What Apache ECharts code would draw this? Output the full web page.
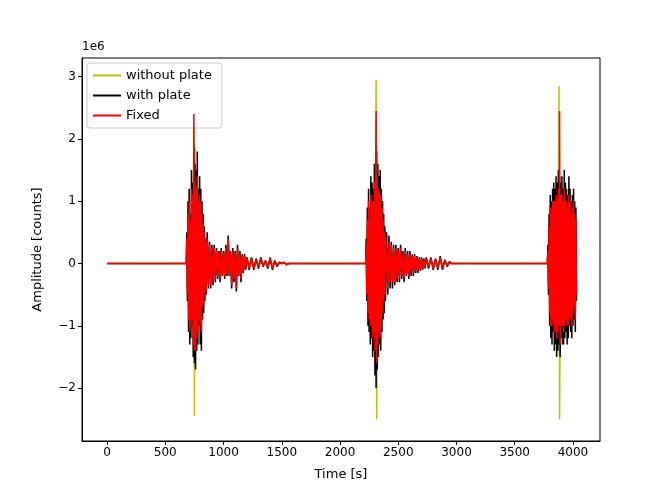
<!DOCTYPE html>
<html><head><meta charset="utf-8">
<script src="https://cdn.jsdelivr.net/npm/echarts@6/dist/echarts.min.js"></script>
<style>html,body{margin:0;padding:0;background:#fff}#c{width:666px;height:500px}</style>
</head><body><div id="c"></div>
<script>
// values in units of 1e6 counts
const tLead = [0, 680];
const zLead = [0, 0];
const t1 = [685,690,695,700,705,710,715,720,725,730,735,740,745,750,755,760,765,770,775,780,785,790,795,800,805,810,815,820,825,830,835,840,845,850,
 860,870,880,890,900,910,920,930,940,950,960,970,980,990,1000,1010,1020,1030,1040,1050,1060,1070,1080,1090,1100,1110,1120,1130,1140,1150,1160,1170,1180,1190,1200,
 1220,1240,1260,1280,1300,1320,1340,1360,1380,1400,1420,1440,1460,1480,1500,1520,1540,1560,2220];
const black1 = [0.5,-0.6,1.0,-1.1,1.2,-1.3,0.8,-1.2,1.5,-1.0,1.3,-1.5,1.9,-1.6,1.6,-1.7,1.5,-1.4,1.8,-1.3,1.2,-1.0,1.4,-1.3,1.2,-1.4,1.0,-0.9,0.8,-0.8,0.6,-0.6,0.4,-0.5,
 0.5,-0.4,0.35,-0.4,0.3,-0.35,0.3,-0.3,0.25,-0.25,0.2,-0.3,0.25,-0.2,0.2,-0.25,0.3,-0.2,0.45,-0.2,0.2,-0.4,0.25,-0.3,0.2,-0.45,0.3,-0.2,0.2,-0.3,0.15,-0.15,0.15,-0.1,0.1,
 -0.1,0.1,-0.1,0.08,-0.08,0.1,-0.05,0.05,-0.08,0.1,-0.1,0.05,-0.05,0.02,0,0.02,-0.02,0,0];
const red1 = [0.4,-0.5,0.8,-0.9,1.0,-1.1,0.7,-1.0,1.2,-0.9,1.1,-1.3,2.4,-1.4,1.3,-1.4,1.2,-1.2,1.4,-1.1,1.0,-0.9,1.1,-1.0,1.0,-1.1,0.8,-0.7,0.65,-0.65,0.5,-0.5,0.35,-0.45,
 0.4,-0.35,0.3,-0.35,0.25,-0.3,0.25,-0.25,0.2,-0.2,0.18,-0.25,0.2,-0.18,0.18,-0.2,0.25,-0.18,0.4,-0.18,0.18,-0.35,0.2,-0.25,0.18,-0.4,0.25,-0.18,0.18,-0.25,0.12,-0.12,0.12,-0.08,0.08,
 -0.08,0.08,-0.08,0.06,-0.06,0.08,-0.04,0.04,-0.06,0.08,-0.08,0.04,-0.04,0.02,0,0.02,-0.02,0,0];
const yellow1 = [0.3,-0.4,0.6,-0.7,0.8,-0.9,0.6,-0.8,1.0,-0.8,1.0,-1.2,2.95,-2.45,1.85,-1.2,1.0,-1.0,1.2,-0.9,0.8,-0.8,0.9,-0.8,0.8,-0.9,0.6,-0.6,0.5,-0.5,0.4,-0.4,0.3,-0.3,
 0.2,-0.2,0.2,-0.2,0.2,-0.2,0.2,-0.2,0.2,-0.2,0.2,-0.2,0.2,-0.2,0.2,-0.2,0.2,-0.2,0.2,-0.2,0.2,-0.2,0.2,-0.2,0.2,-0.2,0.2,-0.2,0.2,-0.2,0.1,-0.1,0.1,-0.1,0.1,
 0,0,0,0,0,0,0,0,0,0,0,0,0,0,0,0,0,0,0];
const t2 = [2225,2230,2235,2240,2245,2250,2255,2260,2265,2270,2275,2280,2285,2290,2295,2300,2305,2310,2315,2320,2325,2330,2335,2340,2345,2350,2355,2360,2365,2370,2375,2380,2385,2390,
 2400,2410,2420,2430,2440,2450,2460,2470,2480,2490,2500,2510,2520,2530,2540,2550,2560,2570,2580,2590,2600,2610,2620,2630,2640,2650,2660,2670,2680,2690,2700,2710,2720,2730,2740,
 2760,2780,2800,2820,2840,2860,2880,2900,2920,2940,2960,2980,3000,3020,3040,3060,3080,3100,3780];
const black2 = [0.4,-0.6,0.9,-1.0,1.2,-1.1,0.9,-1.3,1.4,-1.2,1.3,-1.5,1.2,-1.4,1.6,-1.8,1.5,-2.0,1.8,-1.7,1.6,-1.5,1.4,-1.3,1.5,-1.4,1.2,-1.1,1.0,-0.9,0.8,-0.8,0.6,-0.6,
 0.5,-0.5,0.45,-0.4,0.35,-0.4,0.3,-0.35,0.3,-0.3,0.25,-0.3,0.3,-0.25,0.2,-0.3,0.25,-0.2,0.2,-0.25,0.2,-0.2,0.15,-0.2,0.15,-0.15,0.12,-0.15,0.1,-0.12,0.1,-0.1,0.08,-0.08,0.1,
 -0.08,0.1,-0.1,0.08,-0.1,0.12,-0.1,0.06,-0.05,0.03,0,0,0,0,0,0,0,0,0];
const red2 = [0.3,-0.5,0.7,-0.8,1.0,-0.9,0.7,-1.0,1.1,-1.0,1.0,-1.2,1.0,-1.1,1.3,-1.4,1.2,2.45,-1.6,1.4,-1.3,1.2,-1.1,1.1,-1.2,1.1,-1.0,0.9,-0.8,0.7,-0.6,0.5,-0.5,0.4,
 0.4,-0.4,0.35,-0.3,0.3,-0.3,0.25,-0.3,0.25,-0.25,0.2,-0.25,0.25,-0.2,0.15,-0.25,0.2,-0.15,0.15,-0.2,0.15,-0.15,0.12,-0.15,0.12,-0.12,0.1,-0.12,0.08,-0.1,0.08,-0.08,0.06,-0.06,0.08,
 -0.06,0.08,-0.08,0.06,-0.08,0.1,-0.08,0.05,-0.04,0.02,0,0,0,0,0,0,0,0,0];
const yellow2 = [0.3,-0.4,0.6,-0.7,0.8,-0.8,0.6,-0.9,1.0,-0.9,0.9,-1.0,0.9,-1.0,1.1,-1.2,1.0,2.95,-2.5,1.3,-1.1,1.0,-0.9,0.9,-0.9,0.8,-0.8,0.7,-0.6,0.5,-0.5,0.4,-0.4,0.3,
 0.2,-0.2,0.2,-0.2,0.2,-0.2,0.2,-0.2,0.2,-0.2,0.2,-0.2,0.2,-0.2,0.1,-0.2,0.1,-0.1,0.1,-0.1,0.1,-0.1,0.1,-0.1,0.1,-0.1,0.05,-0.05,0.05,-0.05,0.05,-0.05,0.05,-0.05,0.05,
 0,0,0,0,0,0,0,0,0,0,0,0,0,0,0,0,0,0,0];
const t3 = [3785,3790,3795,3800,3805,3810,3815,3820,3825,3830,3835,3840,3845,3850,3855,3860,3865,3870,3875,3880,3885,3890,3895,3900,3905,3910,3915,3920,3925,3930,
 3935,3940,3945,3950,3955,3960,3965,3970,3975,3980,3985,3990,3995,4000,4005,4010,4015,4020,4025,4030];
const black3 = [0.3,-0.5,0.8,-1.0,1.1,-1.2,1.0,-1.3,1.2,-1.1,1.3,-1.4,1.2,-1.3,1.4,-1.5,1.3,-1.4,1.5,-1.3,1.4,-1.5,1.3,-1.2,1.4,-1.3,1.2,-1.3,1.5,-1.2,
 1.3,-1.1,1.2,-1.3,1.1,-1.2,1.4,-1.0,1.2,-1.1,1.0,-1.2,1.1,-1.0,1.2,-0.9,1.0,-1.1,0.9,-0.6];
const red3 = [0.2,-0.4,0.6,-0.8,0.9,-1.0,0.8,-1.0,1.0,-0.9,1.0,-1.1,1.0,-1.0,1.1,-1.2,1.0,-1.1,1.2,-1.0,2.45,-1.3,1.1,-1.0,1.1,-1.0,1.0,-1.1,1.2,-1.0,
 1.0,-0.9,1.0,-1.0,0.9,-1.0,1.1,-0.8,1.0,-0.9,0.8,-1.0,0.9,-0.8,1.0,-0.7,0.8,-0.9,0.7,-0.5];
const yellow3 = [0.2,-0.3,0.5,-0.6,0.7,-0.8,0.6,-0.8,0.8,-0.7,0.8,-0.9,0.8,-0.8,0.9,-1.0,0.8,-0.9,1.0,2.85,-2.5,-1.0,0.9,-0.8,0.9,-0.8,0.8,-0.9,0.9,-0.8,
 0.8,-0.7,0.8,-0.8,0.7,-0.8,0.9,-0.6,0.8,-0.7,0.6,-0.8,0.7,-0.6,0.8,-0.5,0.6,-0.7,0.5,-0.4];
const xTicks = [0,500,1000,1500,2000,2500,3000,3500,4000];
const yTicks = [-2,-1,0,1,2,3];
const seriesNames = ['without plate','with plate','Fixed'];
const colors = ['#bfbf00','#000000','#ff0000'];

function pairs(ts, vs){ return ts.map((t,i)=>[t, vs[i]]); }
function build(a,b,c){
  return pairs(tLead,zLead).concat(pairs(t1,a),pairs(t2,b),pairs(t3,c));
}
const dataSets = [build(yellow1,yellow2,yellow3), build(black1,black2,black3), build(red1,red2,red3)];

const chart = echarts.init(document.getElementById('c'));
const font = 'DejaVu Sans';
chart.setOption({
  animation:false,
  textStyle:{fontFamily:font},
  grid:{left:82,right:66,top:58,bottom:59,show:true,borderColor:'#000',borderWidth:1},
  legend:{left:87,top:63,orient:'vertical',itemWidth:28,itemHeight:2,itemGap:7,
    backgroundColor:'#fff',borderColor:'#ccc',borderWidth:1,borderRadius:3,padding:[6,10,6,6],
    textStyle:{fontFamily:font,fontSize:13,color:'#000'},
    data:seriesNames.map(n=>({name:n,icon:'rect'}))},
  xAxis:{type:'value',min:-215,max:4232,
    name:'Time [s]',nameLocation:'middle',nameGap:27,nameTextStyle:{fontSize:13,color:'#000',fontFamily:font},
    axisLine:{show:true,onZero:false,lineStyle:{color:'#000'}},
    axisTick:{show:true,inside:false,length:4,customValues:xTicks,lineStyle:{color:'#000'}},
    axisLabel:{customValues:xTicks,color:'#000',fontSize:12,margin:6,fontFamily:font,formatter:v=>String(v)},
    splitLine:{show:false}},
  yAxis:{type:'value',min:-2.85,max:3.3,
    name:'Amplitude [counts]',nameLocation:'middle',nameGap:38,nameRotate:90,nameTextStyle:{fontSize:13,color:'#000',fontFamily:font},
    axisLine:{show:true,onZero:false,lineStyle:{color:'#000'}},
    axisTick:{show:true,inside:false,length:4,customValues:yTicks,lineStyle:{color:'#000'}},
    axisLabel:{customValues:yTicks,color:'#000',fontSize:12,margin:6,fontFamily:font,
      formatter:v=>(v<0?'\u2212'+Math.abs(v):String(v))},
    splitLine:{show:false}},
  graphic:[{type:'text',left:82,top:41,style:{text:'1e6',font:'12px "DejaVu Sans"',fill:'#000'}}],
  series:seriesNames.map((n,i)=>({name:n,type:'line',data:dataSets[i],showSymbol:false,symbol:'none',
    color:colors[i],lineStyle:{width:1.5,color:colors[i]},z:2+i}))
});
</script></body></html>
